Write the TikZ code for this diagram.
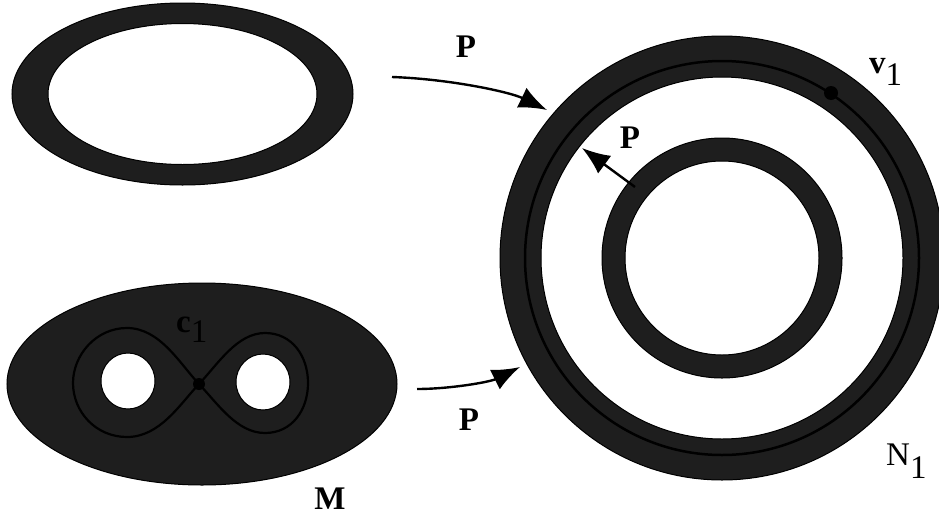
\documentclass[tikz,border=0pt]{standalone}
\usepackage{fontspec}
\setmainfont{Liberation Serif}
\usetikzlibrary{arrows.meta}
\definecolor{band}{HTML}{1E1E1E}
\begin{document}
\begin{tikzpicture}[x=1pt,y=-1pt,
  ring/.style={fill=band,draw=black,line width=1pt,even odd rule},
  arr/.style={draw=black,line width=2.4pt,-{Latex[length=28pt,width=22pt]}},
  lab/.style={inner sep=0pt,font=\fontsize{33}{36}\selectfont\bfseries},
  labr/.style={inner sep=0pt,font=\fontsize{33}{36}\selectfont}]
\useasboundingbox (0,0) rectangle (939,517);
\fill[white] (0,0) rectangle (939,517);

% top ellipse ring
\coordinate (E1) at (182.5,94);
\path[ring] (E1) ellipse[x radius=170.5pt,y radius=91pt]
            (E1) ellipse[x radius=134.5pt,y radius=70.5pt];

% bottom surface M with two holes
\coordinate (E2) at (202,384);
\coordinate (H1) at (128,381);
\coordinate (H2) at (263,382);
\path[ring] (E2) ellipse[x radius=195pt,y radius=101pt]
            (H1) ellipse[x radius=27pt,y radius=28pt]
            (H2) ellipse[x radius=27pt,y radius=28pt];

% figure eight c1
\coordinate (X) at (199,384);
\draw[line width=2.2pt]
  (X) .. controls (180,364) and (160,328) .. (127,328)
      .. controls (96,328) and (73,355) .. (73,383)
      .. controls (73,412) and (96,437) .. (127,437)
      .. controls (160,437) and (180,404) .. (X)
      .. controls (218,404) and (237,433) .. (265,433)
      .. controls (292,433) and (308,410) .. (308,383)
      .. controls (308,356) and (292,333) .. (265,333)
      .. controls (237,333) and (218,364) .. (X);
\fill[black] (X) circle[radius=6pt];

% big annulus N1
\coordinate (C) at (722,258);
\path[ring] (C) circle[radius=222pt] (C) circle[radius=181pt];
\draw[black,line width=2.5pt] (C) circle[radius=197pt];
\path[ring] (C) circle[radius=120pt] (C) circle[radius=97pt];
\coordinate (V) at (831,93);
\fill[black] (V) circle[radius=7pt];

% arrows
\coordinate (a1s) at (392,77);
\coordinate (a1e) at (547,110);
\draw[arr] (a1s) .. controls (450,79) and (510,92) .. (a1e);
\coordinate (a2s) at (417,389);
\coordinate (a2e) at (520,367);
\draw[arr] (a2s) .. controls (450,389) and (490,382) .. (a2e);
\coordinate (a3s) at (635,187);
\coordinate (a3e) at (582,148);
\draw[arr] (a3s) -- (a3e);

% labels
\node[lab] (p1) at (466,47) {P};
\node[lab] (p2) at (469,420) {P};
\node[lab] (p3) at (630,138) {P};
\node[lab] (m) at (330,499) {M};
\node[lab,anchor=base west] (v1) at (869,73) {v\raisebox{-12pt}{\mdseries 1}};
\node[lab,anchor=base west] (c1) at (176,332) {c\raisebox{-10pt}{\mdseries 1}};
\node[labr,anchor=base west] (n1) at (886,465) {N\raisebox{-13pt}{1}};
\end{tikzpicture}
\end{document}
